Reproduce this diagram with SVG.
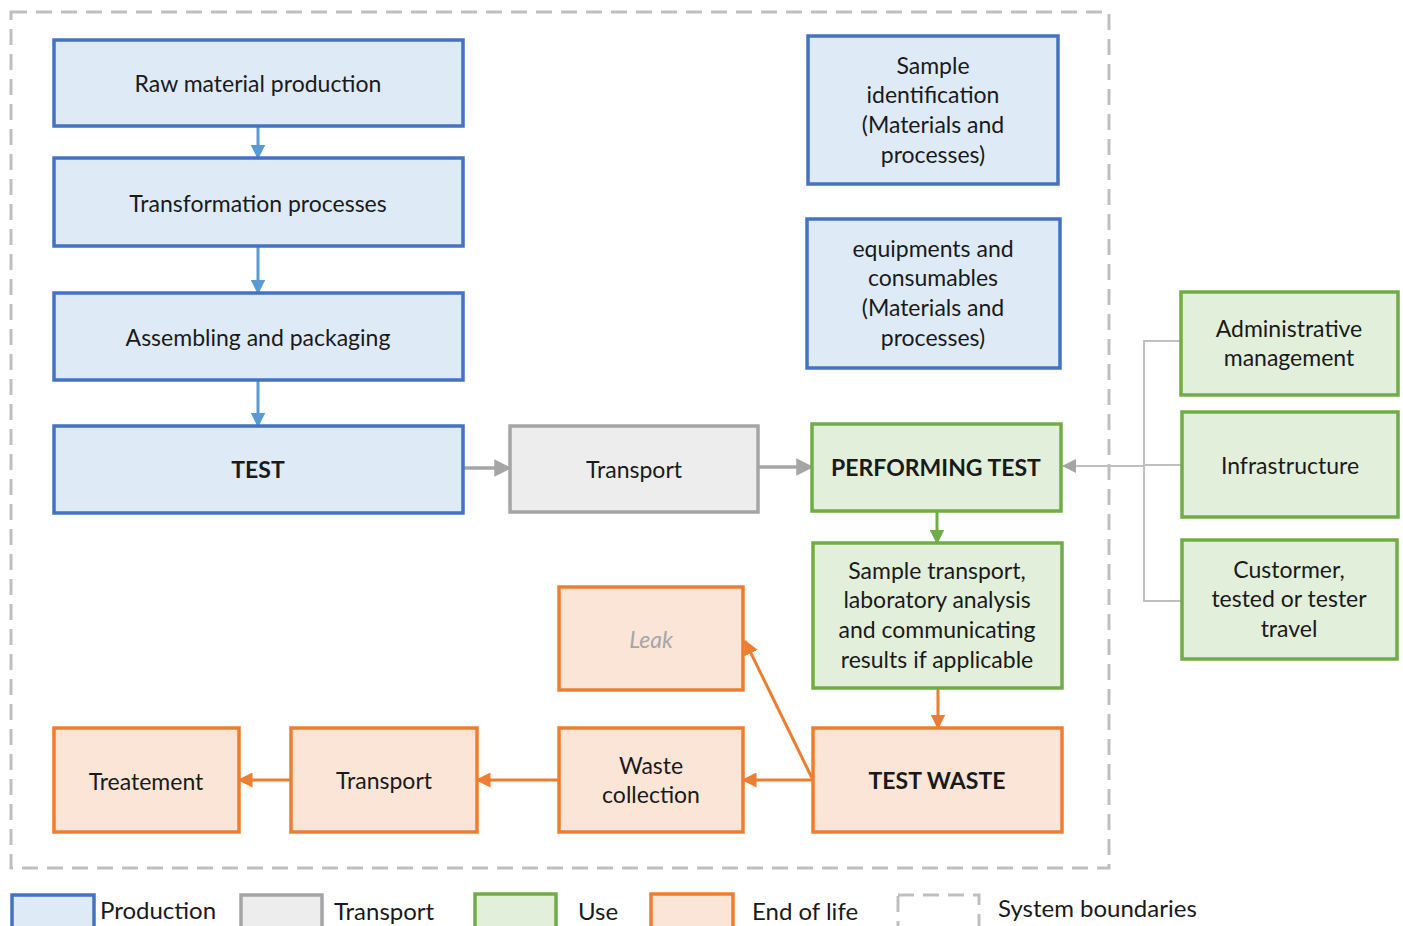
<svg xmlns="http://www.w3.org/2000/svg" width="1403" height="926" viewBox="0 0 1403 926">
<defs>
<style>
text{font-family:Lato,"Open Sans","Liberation Sans",sans-serif;font-size:23px;fill:#1a1a1a;text-anchor:middle;dominant-baseline:central}
.b{font-weight:bold}
.prod{fill:#deebf7;stroke:#4472c4;stroke-width:3.5}
.tran{fill:#ededed;stroke:#a5a5a5;stroke-width:3.5}
.use{fill:#e2efda;stroke:#70ad47;stroke-width:3.5}
.eol{fill:#fbe5d6;stroke:#ed7d31;stroke-width:3.5}
.bound{fill:none;stroke:#bfbfbf;stroke-width:3;stroke-dasharray:16 9}
.ab{stroke:#5b9bd5;stroke-width:3;fill:none;marker-end:url(#mb)}
.ag{stroke:#a5a5a5;stroke-width:3.5;fill:none;marker-end:url(#mg)}
.agt{stroke:#bfbfbf;stroke-width:2;fill:none}
.aG{stroke:#70ad47;stroke-width:3;fill:none;marker-end:url(#mG)}
.ao{stroke:#ed7d31;stroke-width:3;fill:none;marker-end:url(#mo)}
.leg{text-anchor:start;font-size:24px}
</style>
<marker id="mb" markerWidth="5" markerHeight="5" refX="4.5" refY="2.5" orient="auto" markerUnits="strokeWidth"><path d="M0,0 L5,2.5 L0,5 z" fill="#5b9bd5"/></marker>
<marker id="mg" markerWidth="5" markerHeight="5" refX="4.5" refY="2.5" orient="auto" markerUnits="strokeWidth"><path d="M0,0 L5,2.5 L0,5 z" fill="#a5a5a5"/></marker>
<marker id="mgt" markerWidth="14" markerHeight="14" refX="13" refY="7" orient="auto" markerUnits="userSpaceOnUse"><path d="M0,0 L14,7 L0,14 z" fill="#a5a5a5"/></marker>
<marker id="mG" markerWidth="5" markerHeight="5" refX="4.5" refY="2.5" orient="auto" markerUnits="strokeWidth"><path d="M0,0 L5,2.5 L0,5 z" fill="#70ad47"/></marker>
<marker id="mo" markerWidth="5" markerHeight="5" refX="4.5" refY="2.5" orient="auto" markerUnits="strokeWidth"><path d="M0,0 L5,2.5 L0,5 z" fill="#ed7d31"/></marker>
</defs>
<rect width="1403" height="926" fill="#ffffff"/>
<rect id="boundary" class="bound" x="11" y="12" width="1098" height="856"/>

<g id="connectors">
<line class="ab" x1="258" y1="126" x2="258" y2="158"/>
<line class="ab" x1="258" y1="246" x2="258" y2="293"/>
<line class="ab" x1="258" y1="380" x2="258" y2="426"/>
<line class="ag" x1="463" y1="468" x2="510" y2="468"/>
<line class="ag" x1="758" y1="467" x2="812" y2="467"/>
<path class="agt" d="M1181,341 H1144 V601 H1182 M1182,465 H1144"/>
<line class="agt" x1="1144" y1="466" x2="1063" y2="466" marker-end="url(#mgt)"/>
<line class="aG" x1="937" y1="511" x2="937" y2="543"/>
<line class="ao" x1="938" y1="688" x2="938" y2="728"/>
<line class="ao" x1="813" y1="780" x2="743" y2="780"/>
<line class="ao" x1="812" y1="778" x2="745" y2="641"/>
<line class="ao" x1="559" y1="780" x2="477" y2="780"/>
<line class="ao" x1="291" y1="780" x2="239" y2="780"/>
</g>

<g id="raw"><rect class="prod" x="54" y="40" width="409" height="86"/><text x="258" y="83">Raw material production</text></g>
<g id="transformation"><rect class="prod" x="54" y="158" width="409" height="88"/><text x="258" y="203">Transformation processes</text></g>
<g id="assembling"><rect class="prod" x="54" y="293" width="409" height="87"/><text x="258" y="337">Assembling and packaging</text></g>
<g id="test"><rect class="prod" x="54" y="426" width="409" height="87"/><text class="b" x="258" y="469">TEST</text></g>
<g id="transport1"><rect class="tran" x="510" y="426" width="248" height="86"/><text x="634" y="469">Transport</text></g>
<g id="performing"><rect class="use" x="812" y="424" width="249" height="87"/><text class="b" x="936" y="467">PERFORMING TEST</text></g>
<g id="sampleid"><rect class="prod" x="808" y="36" width="250" height="148"/>
<text x="933" y="65">Sample</text><text x="933" y="94">identification</text><text x="933" y="124">(Materials and</text><text x="933" y="154">processes)</text></g>
<g id="equipments"><rect class="prod" x="807" y="219" width="253" height="149"/>
<text x="933" y="248">equipments and</text><text x="933" y="277">consumables</text><text x="933" y="307">(Materials and</text><text x="933" y="337">processes)</text></g>
<g id="admin"><rect class="use" x="1181" y="292" width="217" height="103"/>
<text x="1289" y="328">Administrative</text><text x="1289" y="357">management</text></g>
<g id="infra"><rect class="use" x="1182" y="412" width="216" height="105"/><text x="1290" y="465">Infrastructure</text></g>
<g id="customer"><rect class="use" x="1182" y="540" width="215" height="119"/>
<text x="1289" y="569">Custormer,</text><text x="1289" y="598">tested or tester</text><text x="1289" y="628">travel</text></g>
<g id="sampletransport"><rect class="use" x="813" y="543" width="249" height="145"/>
<text x="937" y="570">Sample transport,</text><text x="937" y="599">laboratory analysis</text><text x="937" y="629">and communicating</text><text x="937" y="659">results if applicable</text></g>
<g id="leak"><rect class="eol" x="559" y="587" width="184" height="103"/><text x="651" y="639" style="fill:#a6a6a6;font-style:italic">Leak</text></g>
<g id="testwaste"><rect class="eol" x="813" y="728" width="249" height="104"/><text class="b" x="937" y="780">TEST WASTE</text></g>
<g id="wastecollection"><rect class="eol" x="559" y="728" width="184" height="104"/>
<text x="651" y="765">Waste</text><text x="651" y="794">collection</text></g>
<g id="transport2"><rect class="eol" x="291" y="728" width="186" height="104"/><text x="384" y="780">Transport</text></g>
<g id="treatement"><rect class="eol" x="54" y="728" width="185" height="104"/><text x="146" y="781">Treatement</text></g>

<g id="legend">
<rect class="prod" x="12" y="895" width="82" height="40"/><text class="leg" x="100" y="909">Production</text>
<rect class="tran" x="241" y="895" width="81" height="40"/><text class="leg" x="334" y="910">Transport</text>
<rect class="use" x="475" y="894" width="81" height="40"/><text class="leg" x="578" y="910">Use</text>
<rect class="eol" x="651" y="894" width="82" height="40"/><text class="leg" x="752" y="910">End of life</text>
<rect class="bound" x="898" y="895" width="81" height="40"/><text class="leg" x="998" y="907">System boundaries</text>
</g>
</svg>
